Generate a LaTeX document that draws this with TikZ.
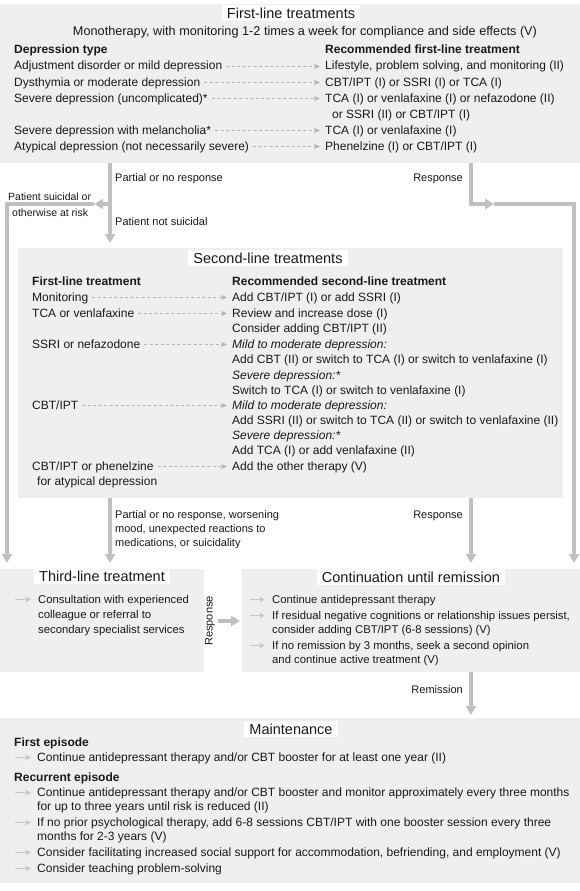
\documentclass[tikz,border=0pt]{standalone}
\usepackage{fontspec}
\setmainfont{Liberation Sans}
\usetikzlibrary{arrows.meta,calc}
\definecolor{boxgray}{RGB}{239,239,239}
\definecolor{flowgray}{RGB}{192,192,192}
\definecolor{dashgray}{RGB}{180,180,180}
\definecolor{bulgray}{RGB}{200,200,200}
\definecolor{ink}{RGB}{25,25,25}
\begin{document}
\begin{tikzpicture}[x=1pt,y=-1pt,
  box/.style={fill=boxgray,draw=none,inner sep=0pt,outer sep=0pt},
  ttl/.style={fill=white,text=ink,font=\fontsize{14.5}{17}\selectfont,inner xsep=5pt,inner ysep=2.5pt,text height=10.5pt,text depth=0pt},
  t/.style={anchor=base west,inner sep=0pt,text=ink,font=\fontsize{12}{14}\selectfont},
  ts/.style={anchor=base west,inner sep=0pt,text=ink,font=\fontsize{11.3}{13}\selectfont},
  h/.style={t,font=\fontsize{12}{14}\selectfont\bfseries},
  it/.style={t,font=\fontsize{12}{14}\selectfont\itshape},
  lab/.style={anchor=base west,inner sep=0pt,text=ink,font=\fontsize{11}{13}\selectfont},
  labs/.style={lab,font=\fontsize{10.5}{12}\selectfont},
  labr/.style={lab,anchor=base east},
  flow/.style={draw=flowgray,line width=3.5pt,-{Triangle[length=9pt,width=10pt]}},
  dasharr/.style={draw=dashgray,line width=0.8pt,dash pattern=on 3pt off 2.5pt,-{Stealth[length=6pt,width=5pt,inset=1.5pt]},shorten <=4pt,shorten >=5pt},
  bul/.style={draw=bulgray,line width=1.2pt,-{Stealth[length=6pt,width=6pt,inset=2pt]}}
]
\fill[white] (0,0) rectangle (580,891);
\useasboundingbox (0,0) rectangle (580,891);

% ---------- boxes ----------
\node[box,minimum width=580pt,minimum height=159pt,anchor=north west] (first) at (0,4) {};
\node[box,minimum width=545pt,minimum height=250pt,anchor=north west] (second) at (18,248) {};
\node[box,minimum width=204pt,minimum height=103pt,anchor=north west] (third) at (0,569) {};
\node[box,minimum width=338pt,minimum height=103pt,anchor=north west] (cont) at (242,569) {};
\node[box,minimum width=580pt,minimum height=165pt,anchor=north west] (maint) at (0,718) {};

% ---------- first-line ----------
\node[ttl] (t1) at (291,13) {First-line treatments};
\node[t,anchor=base,font=\fontsize{12.7}{15}\selectfont] (mono) at (305,36) {Monotherapy, with monitoring 1-2 times a week for compliance and side effects (V)};
\node[h] (fh1) at (14,54) {Depression type};
\node[h] (fh2) at (325,54) {Recommended first-line treatment};
\node[t] (fl1) at (14,70) {Adjustment disorder or mild depression};
\node[t] (fr1) at (325,70) {Lifestyle, problem solving, and monitoring (II)};
\node[t] (fl2) at (14,86) {Dysthymia or moderate depression};
\node[t] (fr2) at (325,86) {CBT/IPT (I) or SSRI (I) or TCA (I)};
\node[t] (fl3) at (14,102) {Severe depression (uncomplicated)*};
\node[t] (fr3) at (325,102) {TCA (I) or venlafaxine (I) or nefazodone (II)};
\node[t] (fr3b) at (332,118) {or SSRI (II) or CBT/IPT (I)};
\node[t] (fl4) at (14,134) {Severe depression with melancholia*};
\node[t] (fr4) at (325,134) {TCA (I) or venlafaxine (I)};
\node[t] (fl5) at (14,150) {Atypical depression (not necessarily severe)};
\node[t] (fr5) at (325,150) {Phenelzine (I) or CBT/IPT (I)};
\foreach \i in {1,...,5}{
  \draw[dasharr] ([yshift=3.5pt]fl\i.base east) -- ([yshift=3.5pt]fr\i.base west);
}

% ---------- second-line ----------
\node[ttl] (t2) at (268,258) {Second-line treatments};
\node[h] (sh1) at (32,285) {First-line treatment};
\node[h] (sh2) at (232,285) {Recommended second-line treatment};
\node[t] (sl1) at (32,301) {Monitoring};
\node[t] (sr1) at (232,301) {Add CBT/IPT (I) or add SSRI (I)};
\node[t] (sl2) at (32,317) {TCA or venlafaxine};
\node[t] (sr2) at (232,317) {Review and increase dose (I)};
\node[t] (sr2b) at (232,332) {Consider adding CBT/IPT (II)};
\node[t] (sl3) at (32,348) {SSRI or nefazodone};
\node[it] (sr3) at (232,348) {Mild to moderate depression:};
\node[t] (sr3b) at (232,363) {Add CBT (II) or switch to TCA (I) or switch to venlafaxine (I)};
\node[it] (sr3c) at (232,379) {Severe depression:*};
\node[t] (sr3d) at (232,394) {Switch to TCA (I) or switch to venlafaxine (I)};
\node[t] (sl4) at (32,409) {CBT/IPT};
\node[it] (sr4) at (232,409) {Mild to moderate depression:};
\node[t] (sr4b) at (232,424) {Add SSRI (II) or switch to TCA (II) or switch to venlafaxine (II)};
\node[it] (sr4c) at (232,439) {Severe depression:*};
\node[t] (sr4d) at (232,454) {Add TCA (I) or add venlafaxine (II)};
\node[t] (sl5) at (32,470) {CBT/IPT or phenelzine};
\node[t] (sl5b) at (37,485) {for atypical depression};
\node[t] (sr5) at (232,470) {Add the other therapy (V)};
\foreach \i in {1,...,5}{
  \draw[dasharr] ([yshift=3.5pt]sl\i.base east) -- ([yshift=3.5pt]sr\i.base west);
}

% ---------- third-line ----------
\node[ttl] (t3) at (102,576) {Third-line treatment};
\node[ts] (c1) at (38,603) {Consultation with experienced};
\node[ts] (c1b) at (38,618) {colleague or referral to};
\node[ts] (c1c) at (38,633) {secondary specialist services};
\draw[bul] ([xshift=-23pt,yshift=3.5pt]c1.base west) -- ([xshift=-7pt,yshift=3.5pt]c1.base west);

% ---------- continuation ----------
\node[ttl] (t4) at (411,577) {Continuation until remission};
\node[ts] (k1) at (272,603) {Continue antidepressant therapy};
\node[ts] (k2) at (272,619) {If residual negative cognitions or relationship issues persist,};
\node[ts] (k2b) at (272,633) {consider adding CBT/IPT (6-8 sessions) (V)};
\node[ts] (k3) at (272,649) {If no remission by 3 months, seek a second opinion};
\node[ts] (k3b) at (272,663) {and continue active treatment (V)};
\foreach \n in {k1,k2,k3}{
  \draw[bul] ([xshift=-22pt,yshift=3.5pt]\n.base west) -- ([xshift=-7pt,yshift=3.5pt]\n.base west);
}

% ---------- maintenance ----------
\node[ttl] (t5) at (291,729) {Maintenance};
\node[h] (mh1) at (14,746) {First episode};
\node[t] (m1) at (37,761) {Continue antidepressant therapy and/or CBT booster for at least one year (II)};
\node[h] (mh2) at (14,781) {Recurrent episode};
\node[t] (m2) at (37,796) {Continue antidepressant therapy and/or CBT booster and monitor approximately every three months};
\node[t] (m2b) at (37,810) {for up to three years until risk is reduced (II)};
\node[t] (m3) at (37,826) {If no prior psychological therapy, add 6-8 sessions CBT/IPT with one booster session every three};
\node[t] (m3b) at (37,840) {months for 2-3 years (V)};
\node[t] (m4) at (37,856) {Consider facilitating increased social support for accommodation, befriending, and employment (V)};
\node[t] (m5) at (37,872) {Consider teaching problem-solving};
\foreach \n in {m1,m2,m3,m4,m5}{
  \draw[bul] ([xshift=-22pt,yshift=3.5pt]\n.base west) -- ([xshift=-6pt,yshift=3.5pt]\n.base west);
}

% ---------- connector labels ----------
\node[lab] (l1) at (115,181) {Partial or no response};
\node[lab] (l2) at (115,225) {Patient not suicidal};
\node[labs] (l3) at (8,200) {Patient suicidal or};
\node[labs] (l4) at (12,216) {otherwise at risk};
\node[labr] (l5) at (463,181) {Response};
\node[lab] (l6) at (115,518) {Partial or no response, worsening};
\node[lab] (l6b) at (115,532) {mood, unexpected reactions to};
\node[lab] (l6c) at (115,546) {medications, or suicidality};
\node[labr] (l7) at (463,518) {Response};
\node[lab,anchor=center,rotate=90] (l8) at (210,621) {Response};
\node[labr] (l9) at (463,693) {Remission};

% ---------- connectors ----------
\coordinate (xL) at (110,0);
\coordinate (xR) at (471,0);
\coordinate (xE) at (574,0);
\coordinate (xW) at (7,0);
\coordinate (yB) at (0,204);
\coordinate (yM) at (0,621);
\coordinate (bmL) at (94,204);
\coordinate (bmR) at (494,204);

\draw[flow,shorten >=5pt] (first.south -| xL) -- (second.north -| xL);
\draw[flow] (yB -| xL) -- (bmL);
\draw[flow,shorten >=6pt] (bmL) -- (yB -| xW) -- (third.north -| xW);
\draw[flow] (first.south -| xR) -- (yB -| xR) -- (bmR);
\draw[flow,shorten >=6pt] (bmR) -- (yB -| xE) -- (cont.north -| xE);
\draw[flow,shorten >=6pt] (second.south -| xL) -- (third.north -| xL);
\draw[flow,shorten >=6pt] (second.south -| xR) -- (cont.north -| xR);
\draw[flow,shorten <=14pt,shorten >=2pt] (third.east |- yM) -- (cont.west |- yM);
\draw[flow,shorten >=3pt] (cont.south -| xR) -- (maint.north -| xR);
\end{tikzpicture}
\end{document}
